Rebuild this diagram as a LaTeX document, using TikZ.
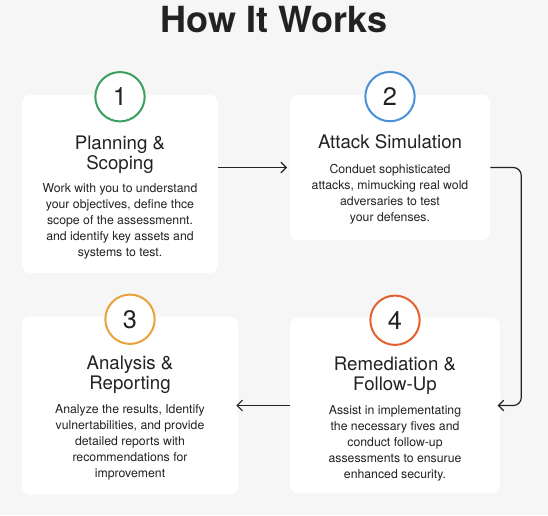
\documentclass[tikz,border=0pt]{standalone}
\usepackage{fontspec}
\setmainfont{TeX Gyre Heros}
\usetikzlibrary{arrows.meta, positioning, calc}
\definecolor{pagebg}{HTML}{F6F6F6}
\definecolor{inkdark}{HTML}{222222}
\definecolor{stepgreen}{HTML}{3C9E5F}
\definecolor{stepblue}{HTML}{4A90D9}
\definecolor{stepamber}{HTML}{E9A23B}
\definecolor{steporange}{HTML}{E4602E}

\begin{document}
\begin{tikzpicture}[
    x=0.75pt, y=-0.75pt,
    card/.style={rectangle, fill=white, rounded corners=6pt, inner sep=0pt},
    num/.style={circle, draw, line width=1.5pt, fill=white, minimum size=37pt, inner sep=0pt, text=inkdark, font=\fontsize{19}{19}\selectfont},
    head/.style={align=center, inner sep=0pt, text=inkdark, font=\fontsize{14}{15}\selectfont},
    body/.style={align=center, inner sep=0pt, text=inkdark, font=\fontsize{9.2}{12}\selectfont},
    arrow/.style={-{Straight Barb[length=4pt, width=8pt]}, line width=0.9pt, draw=inkdark, rounded corners=6pt}
]
\useasboundingbox[fill=pagebg] (0,0) rectangle (548,515);
% Title
\node[text=inkdark, font=\bfseries\fontsize{27}{27}\selectfont] (title) at (274,20) {How It Works};
% Cards
\node[card, minimum width=147pt, minimum height=133.5pt] (card1) at (120,184) {};
\node[card, minimum width=150pt, minimum height=109pt] (card2) at (390,167.5) {};
\node[card, minimum width=162pt, minimum height=133.5pt] (card3) at (130,405.5) {};
\node[card, minimum width=157.5pt, minimum height=132pt] (card4) at (395,405.5) {};
% Step 1
\node[num, draw=stepgreen] (num1) at ([yshift=-1.5pt]card1.north) {1};
\node[head, below=10pt of num1] (head1) {Planning \&\\Scoping};
\node[body, below=7pt of head1] (body1) {Work with you to understand\\your objectives, define thce\\scope of the assessmennt.\\and identify key assets and\\systems to test.};
% Step 2
\node[num, draw=stepblue] (num2) at ([yshift=-1.5pt]card2.north) {2};
\node[head, below=9pt of num2] (head2) {Attack Simulation};
\node[body, below=11pt of head2] (body2) {Conduet sophisticated\\attacks, mimucking real wold\\adversaries to test\\your defenses.};
% Step 3
\node[num, draw=stepamber] (num3) at ([yshift=-2.25pt]card3.north) {3};
\node[head, below=8pt of num3] (head3) {Analysis \&\\Reporting};
\node[body, below=8pt of head3] (body3) {Analyze the results, Identify\\vulnertabilities, and provide\\detailed reports with\\recommendations for\\improvement};
% Step 4
\node[num, draw=steporange] (num4) at ([yshift=-2.25pt]card4.north) {4};
\node[head, below=8pt of num4] (head4) {Remediation \&\\Follow-Up};
\node[body, below=8pt of head4] (body4) {Assist in implementating\\the necessary fives and\\conduct follow-up\\assessments to ensurue\\enhanced security.};
% Arrows
\draw[arrow, shorten >=2pt] (card1.east |- card2.west) -- (card2.west);
\draw[arrow, shorten >=-2pt] (card2.east) -- ++(31,0) |- (card4.east);
\draw[arrow, shorten >=-1.5pt] (card4.west) -- (card3.east);
\end{tikzpicture}
\end{document}
